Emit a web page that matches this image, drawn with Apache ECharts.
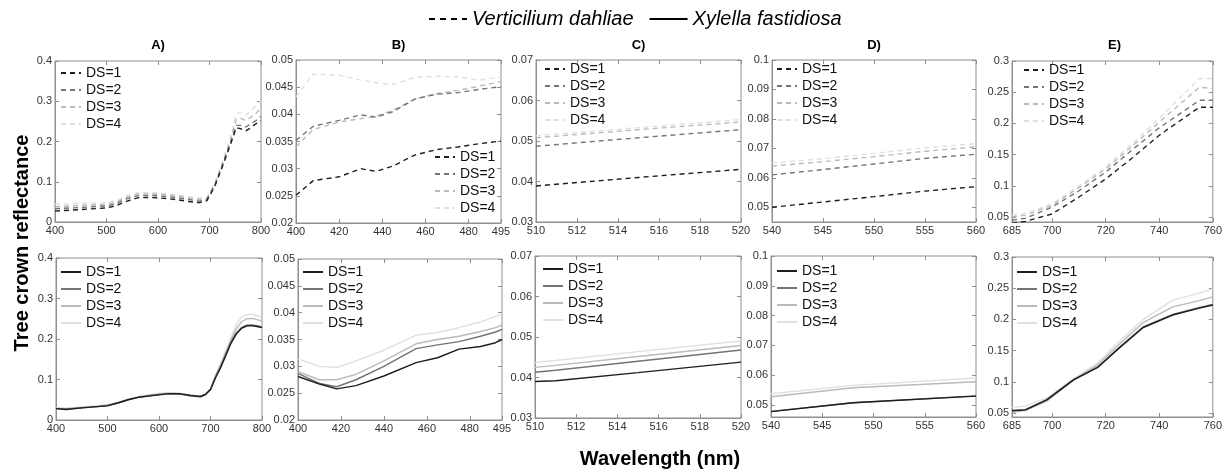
<!DOCTYPE html>
<html><head><meta charset="utf-8">
<script src="https://cdn.jsdelivr.net/npm/echarts@6/dist/echarts.min.js"></script>
<style>html,body{margin:0;padding:0;background:#fff}#c{width:1225px;height:469px}</style>
</head><body><div id="c"></div><script>
// ---------- DATA ----------
const dsNames = ['DS=1', 'DS=2', 'DS=3', 'DS=4'];
const panelTitles = ['A)', 'B)', 'C)', 'D)', 'E)'];
const groupNames = ['Verticilium dahliae', 'Xylella fastidiosa'];
const xLabel = 'Wavelength (nm)';
const yLabel = 'Tree crown reflectance';

// tick labels
const xTicksA = [400, 500, 600, 700, 800];
const xTicksB = [400, 420, 440, 460, 480, 495];
const xTicksC = [510, 512, 514, 516, 518, 520];
const xTicksD = [540, 545, 550, 555, 560];
const xTicksE = [685, 700, 720, 740, 760];
const yTicksA = [0, 0.1, 0.2, 0.3, 0.4];
const yTicksB = [0.02, 0.025, 0.03, 0.035, 0.04, 0.045, 0.05];
const yTicksC = [0.03, 0.04, 0.05, 0.06, 0.07];
const yTicksD = [0.05, 0.06, 0.07, 0.08, 0.09, 0.1];
const yTicksE = [0.05, 0.1, 0.15, 0.2, 0.25, 0.3];

// axis ranges
const xRangeA = [400, 800], xRangeB = [400, 495], xRangeC = [510, 520], xRangeD = [540, 560], xRangeE = [685, 760];
const yRangeA = [0, 0.4], yRangeB = [0.02, 0.05], yRangeC = [0.03, 0.07];
const yRangeDTop = [0.045, 0.1], yRangeDBottom = [0.046, 0.1];
const yRangeETop = [0.042, 0.3], yRangeEBottom = [0.0436, 0.3];

// Verticilium dahliae (top row)
const wlVA = [400, 450, 500, 520, 540, 560, 580, 600, 620, 640, 660, 680, 695, 710, 725, 740, 752, 760, 770, 780, 790, 800];
const vdA1 = [0.027, 0.031, 0.035, 0.041, 0.052, 0.060, 0.061, 0.060, 0.058, 0.055, 0.051, 0.048, 0.053, 0.088, 0.138, 0.190, 0.234, 0.232, 0.226, 0.234, 0.244, 0.252];
const vdA2 = [0.033, 0.036, 0.040, 0.046, 0.058, 0.065, 0.066, 0.065, 0.063, 0.060, 0.056, 0.052, 0.056, 0.090, 0.141, 0.194, 0.240, 0.240, 0.236, 0.243, 0.252, 0.262];
const vdA3 = [0.038, 0.041, 0.044, 0.050, 0.062, 0.069, 0.070, 0.069, 0.067, 0.064, 0.060, 0.056, 0.059, 0.093, 0.145, 0.200, 0.255, 0.258, 0.252, 0.260, 0.270, 0.282];
const vdA4 = [0.044, 0.046, 0.048, 0.054, 0.066, 0.072, 0.073, 0.072, 0.070, 0.067, 0.063, 0.060, 0.062, 0.096, 0.150, 0.206, 0.268, 0.272, 0.266, 0.276, 0.288, 0.300];

const wlVB = [400, 408, 420, 430, 437, 445, 455, 465, 475, 485, 495];
const vdB1 = [0.0251, 0.0278, 0.0285, 0.0300, 0.0295, 0.0305, 0.0325, 0.0335, 0.0340, 0.0346, 0.0351];
const vdB2 = [0.0352, 0.0378, 0.0389, 0.0399, 0.0395, 0.0405, 0.0428, 0.0437, 0.0440, 0.0446, 0.0451];
const vdB3 = [0.0340, 0.0372, 0.0386, 0.0392, 0.0396, 0.0408, 0.0428, 0.0438, 0.0444, 0.0452, 0.0460];
const vdB4 = [0.0432, 0.0474, 0.0472, 0.0463, 0.0458, 0.0455, 0.0468, 0.0470, 0.0469, 0.0463, 0.0469];

const wlVC = [510, 515, 520];
const vdC1 = [0.0389, 0.0410, 0.0430];
const vdC2 = [0.0487, 0.0508, 0.0528];
const vdC3 = [0.0508, 0.0528, 0.0547];
const vdC4 = [0.0513, 0.0533, 0.0553];

const wlVD = [540, 545, 550, 555, 560];
const vdD1 = [0.0500, 0.0518, 0.0536, 0.0555, 0.0570];
const vdD2 = [0.0610, 0.0628, 0.0647, 0.0666, 0.0680];
const vdD3 = [0.0640, 0.0655, 0.0672, 0.0690, 0.0705];
const vdD4 = [0.0650, 0.0665, 0.0683, 0.0702, 0.0716];

const wlVE = [685, 690, 700, 710, 720, 730, 740, 755, 760];
const vdE1 = [0.040, 0.043, 0.055, 0.082, 0.111, 0.145, 0.181, 0.226, 0.226];
const vdE2 = [0.045, 0.048, 0.066, 0.092, 0.122, 0.158, 0.193, 0.237, 0.237];
const vdE3 = [0.050, 0.053, 0.069, 0.097, 0.127, 0.164, 0.202, 0.258, 0.256];
const vdE4 = [0.053, 0.056, 0.071, 0.100, 0.130, 0.168, 0.208, 0.272, 0.272];

// Xylella fastidiosa (bottom row)
const wlXA = [400, 420, 450, 480, 500, 520, 540, 560, 580, 600, 620, 640, 660, 680, 690, 700, 710, 720, 730, 740, 750, 760, 770, 780, 790, 800];
const xfA1 = [0.028, 0.026, 0.030, 0.033, 0.035, 0.042, 0.050, 0.056, 0.059, 0.062, 0.065, 0.065, 0.061, 0.058, 0.063, 0.075, 0.105, 0.130, 0.160, 0.190, 0.212, 0.226, 0.232, 0.233, 0.231, 0.228];
const xfA2 = [0.028, 0.027, 0.030, 0.033, 0.036, 0.042, 0.050, 0.056, 0.060, 0.063, 0.065, 0.064, 0.060, 0.058, 0.063, 0.076, 0.107, 0.133, 0.163, 0.193, 0.215, 0.228, 0.234, 0.235, 0.233, 0.230];
const xfA3 = [0.029, 0.028, 0.031, 0.034, 0.037, 0.043, 0.051, 0.057, 0.061, 0.064, 0.066, 0.065, 0.060, 0.057, 0.062, 0.076, 0.109, 0.137, 0.168, 0.198, 0.225, 0.242, 0.250, 0.251, 0.248, 0.244];
const xfA4 = [0.030, 0.029, 0.032, 0.035, 0.038, 0.044, 0.052, 0.058, 0.062, 0.066, 0.068, 0.066, 0.060, 0.056, 0.061, 0.077, 0.111, 0.141, 0.173, 0.205, 0.236, 0.254, 0.260, 0.261, 0.258, 0.253];

const wlXB = [400, 410, 418, 427, 440, 455, 465, 475, 485, 492, 495];
const xfB1 = [0.0281, 0.0267, 0.0258, 0.0264, 0.0282, 0.0307, 0.0316, 0.0332, 0.0337, 0.0344, 0.0350];
const xfB2 = [0.0287, 0.0268, 0.0262, 0.0275, 0.0300, 0.0333, 0.0340, 0.0346, 0.0356, 0.0364, 0.0369];
const xfB3 = [0.0290, 0.0275, 0.0275, 0.0285, 0.0310, 0.0342, 0.0350, 0.0356, 0.0365, 0.0372, 0.0377];
const xfB4 = [0.0314, 0.0300, 0.0298, 0.0310, 0.0330, 0.0358, 0.0363, 0.0372, 0.0383, 0.0393, 0.0398];

const wlXC = [510, 511, 515, 520];
const xfC1 = [0.0390, 0.0392, 0.0412, 0.0438];
const xfC2 = [0.0413, 0.0418, 0.0440, 0.0468];
const xfC3 = [0.0425, 0.0430, 0.0452, 0.0479];
const xfC4 = [0.0437, 0.0442, 0.0464, 0.0490];

const wlXD = [540, 548, 560];
const xfD1 = [0.0478, 0.0508, 0.0530];
const xfD2 = [0.0479, 0.0508, 0.0531];
const xfD3 = [0.0528, 0.0558, 0.0578];
const xfD4 = [0.0538, 0.0566, 0.0591];

const wlXE = [685, 690, 698, 708, 717, 725, 734, 745, 755, 760];
const xfE1 = [0.0537, 0.0550, 0.0710, 0.1030, 0.1230, 0.1540, 0.1870, 0.2070, 0.2180, 0.2230];
const xfE2 = [0.0540, 0.0555, 0.0715, 0.1035, 0.1235, 0.1550, 0.1880, 0.2080, 0.2190, 0.2240];
const xfE3 = [0.0510, 0.0540, 0.0690, 0.1030, 0.1270, 0.1600, 0.1950, 0.2200, 0.2300, 0.2360];
const xfE4 = [0.0590, 0.0610, 0.0740, 0.1050, 0.1300, 0.1650, 0.2000, 0.2310, 0.2420, 0.2490];

// ---------- LAYOUT / STYLE ----------
const FONT = 'Liberation Sans, Arial, Helvetica, sans-serif';
const AXIS_COLOR = '#8f8f8f';
const LABEL_COLOR = '#333';
const dsColors = ['#1e1e1e', '#747474', '#bababa', '#e0e0e0'];

const panels = [
  {row: 'V', wl: wlVA, ys: [vdA1, vdA2, vdA3, vdA4], xr: xRangeA, yr: yRangeA, xt: xTicksA, yt: yTicksA, box: {left: 55, top: 61, width: 206, height: 161}, leg: [60, 66]},
  {row: 'V', wl: wlVB, ys: [vdB1, vdB2, vdB3, vdB4], xr: xRangeB, yr: yRangeB, xt: xTicksB, yt: yTicksB, box: {left: 296, top: 60, width: 205, height: 163}, leg: [434, 150]},
  {row: 'V', wl: wlVC, ys: [vdC1, vdC2, vdC3, vdC4], xr: xRangeC, yr: yRangeC, xt: xTicksC, yt: yTicksC, box: {left: 536, top: 60, width: 205, height: 162}, leg: [544, 62]},
  {row: 'V', wl: wlVD, ys: [vdD1, vdD2, vdD3, vdD4], xr: xRangeD, yr: yRangeDTop, xt: xTicksD, yt: yTicksD, box: {left: 772, top: 60, width: 204, height: 162}, leg: [776, 62]},
  {row: 'V', wl: wlVE, ys: [vdE1, vdE2, vdE3, vdE4], xr: xRangeE, yr: yRangeETop, xt: xTicksE, yt: yTicksE, box: {left: 1012, top: 61, width: 205, height: 161}, leg: [1023, 63]},
  {row: 'X', wl: wlXA, ys: [xfA1, xfA2, xfA3, xfA4], xr: xRangeA, yr: yRangeA, xt: xTicksA, yt: yTicksA, box: {left: 56, top: 258, width: 206, height: 162}, leg: [60, 265]},
  {row: 'X', wl: wlXB, ys: [xfB1, xfB2, xfB3, xfB4], xr: xRangeB, yr: yRangeB, xt: xTicksB, yt: yTicksB, box: {left: 298, top: 259, width: 204, height: 161}, leg: [302, 265]},
  {row: 'X', wl: wlXC, ys: [xfC1, xfC2, xfC3, xfC4], xr: xRangeC, yr: yRangeC, xt: xTicksC, yt: yTicksC, box: {left: 535, top: 256, width: 206, height: 162}, leg: [542, 262]},
  {row: 'X', wl: wlXD, ys: [xfD1, xfD2, xfD3, xfD4], xr: xRangeD, yr: yRangeDBottom, xt: xTicksD, yt: yTicksD, box: {left: 771, top: 256, width: 205, height: 161}, leg: [776, 264]},
  {row: 'X', wl: wlXE, ys: [xfE1, xfE2, xfE3, xfE4], xr: xRangeE, yr: yRangeEBottom, xt: xTicksE, yt: yTicksE, box: {left: 1012, top: 257, width: 205, height: 160}, leg: [1016, 265]}
];

const grids = [], xAxes = [], yAxes = [], series = [], legends = [];
const noSymbol = {color: 'transparent', borderColor: 'transparent', borderWidth: 0, opacity: 0};

panels.forEach((p, i) => {
  grids.push(Object.assign({show: true, borderColor: AXIS_COLOR, borderWidth: 1, backgroundColor: '#fff'}, p.box));
  const xi = xAxes.length, yi = yAxes.length;
  const common = {type: 'value', gridIndex: i, splitLine: {show: false}};
  xAxes.push(Object.assign({}, common, {
    position: 'bottom', min: p.xr[0], max: p.xr[1],
    axisLine: {show: true, onZero: false, lineStyle: {color: AXIS_COLOR}},
    axisTick: {show: true, inside: true, length: 4, customValues: p.xt, lineStyle: {color: AXIS_COLOR}},
    axisLabel: {customValues: p.xt, margin: 3, fontSize: 11, color: LABEL_COLOR, fontFamily: FONT}
  }));
  xAxes.push(Object.assign({}, common, {
    position: 'top', min: p.xr[0], max: p.xr[1],
    axisLine: {show: false, onZero: false},
    axisTick: {show: true, inside: true, length: 4, customValues: p.xt, lineStyle: {color: AXIS_COLOR}},
    axisLabel: {show: false}
  }));
  yAxes.push(Object.assign({}, common, {
    position: 'left', min: p.yr[0], max: p.yr[1],
    axisLine: {show: true, onZero: false, lineStyle: {color: AXIS_COLOR}},
    axisTick: {show: true, inside: true, length: 4, customValues: p.yt, lineStyle: {color: AXIS_COLOR}},
    axisLabel: {customValues: p.yt, margin: 3, fontSize: 11, color: LABEL_COLOR, fontFamily: FONT}
  }));
  yAxes.push(Object.assign({}, common, {
    position: 'right', min: p.yr[0], max: p.yr[1],
    axisLine: {show: false, onZero: false},
    axisTick: {show: true, inside: true, length: 4, customValues: p.yt, lineStyle: {color: AXIS_COLOR}},
    axisLabel: {show: false}
  }));
  p.ys.forEach((vals, k) => {
    series.push({
      type: 'line', name: p.row + ':' + dsNames[k],
      xAxisIndex: xi, yAxisIndex: yi,
      data: p.wl.map((w, j) => [w, vals[j]]),
      symbol: 'none', smooth: false, clip: true, silent: true, z: 10 - k,
      lineStyle: {color: dsColors[k], width: 1.4, type: p.row === 'V' ? [5, 4] : 'solid'},
      itemStyle: {color: dsColors[k]}
    });
  });
  legends.push({
    orient: 'vertical', left: p.leg[0], top: p.leg[1], padding: 0,
    itemWidth: 20, itemHeight: 14, itemGap: 3, selectedMode: false,
    itemStyle: noSymbol,
    data: dsNames.map(n => p.row + ':' + n),
    formatter: n => n.slice(2),
    textStyle: {fontSize: 14, lineHeight: 14, color: '#111', fontFamily: FONT}
  });
});

// group legend series (no data)
series.push({type: 'line', name: groupNames[0], xAxisIndex: 0, yAxisIndex: 0, data: [], symbol: 'none',
  lineStyle: {color: '#000', width: 2, type: [6, 5]}, itemStyle: {color: '#000'}});
series.push({type: 'line', name: groupNames[1], xAxisIndex: 0, yAxisIndex: 0, data: [], symbol: 'none',
  lineStyle: {color: '#000', width: 2, type: 'solid'}, itemStyle: {color: '#000'}});
legends.push({
  orient: 'horizontal', left: 428, top: 9, padding: 0, itemWidth: 38, itemHeight: 20, itemGap: 15,
  selectedMode: false, data: groupNames, itemStyle: noSymbol,
  textStyle: {fontSize: 20, fontStyle: 'italic', color: '#000', fontFamily: FONT}
});

// panel titles and axis names (text)
const graphics = [];
panels.slice(0, 5).forEach((p, i) => {
  graphics.push({type: 'text', x: p.box.left + p.box.width / 2, y: 45,
    style: {text: panelTitles[i], fill: '#000', font: 'bold 13px ' + FONT, textAlign: 'center', textVerticalAlign: 'middle'}});
});
graphics.push({type: 'text', x: 22, y: 243, rotation: Math.PI / 2,
  style: {text: yLabel, fill: '#000', font: 'bold 20px ' + FONT, textAlign: 'center', textVerticalAlign: 'middle'}});
graphics.push({type: 'text', x: 660, y: 459,
  style: {text: xLabel, fill: '#000', font: 'bold 20px ' + FONT, textAlign: 'center', textVerticalAlign: 'middle'}});

const chart = echarts.init(document.getElementById('c'), null, {renderer: 'canvas'});
chart.setOption({
  animation: false,
  backgroundColor: '#fff',
  grid: grids, xAxis: xAxes, yAxis: yAxes, series: series, legend: legends,
  graphic: graphics
});
</script></body></html>
